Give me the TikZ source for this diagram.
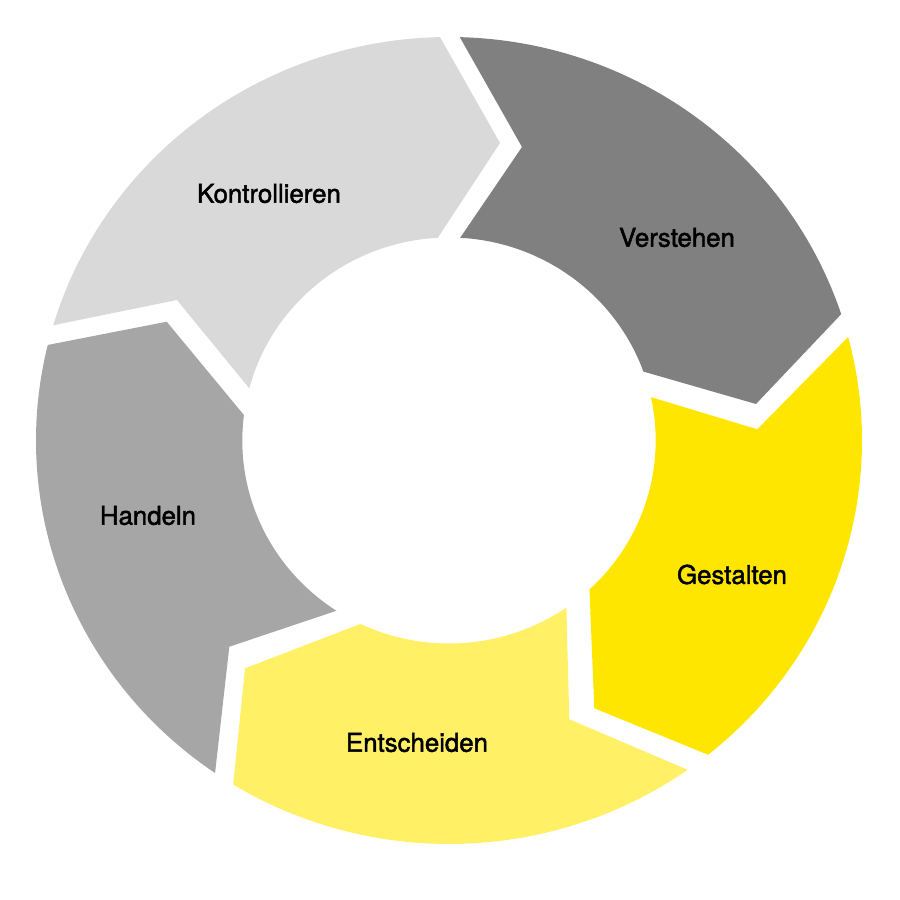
\documentclass[tikz,border=0pt]{standalone}
\usepackage{fontspec}
\setmainfont{TeX Gyre Heros}
\newfontfamily\phasefont{TeX Gyre Heros}[FakeBold=1.8]
\usepackage{xcolor}
\usepackage{tikz}
\definecolor{kontrollgrau}{HTML}{D9D9D9}
\definecolor{verstehgrau}{HTML}{808080}
\definecolor{handelgrau}{HTML}{A6A6A6}
\definecolor{gestaltgelb}{HTML}{FFE600}
\definecolor{entscheidgelb}{HTML}{FFF066}
\tikzset{
  phasetext/.style={font=\phasefont\fontsize{25.8}{30}\selectfont, text=black, inner sep=0pt},
  outerarc/.style={x radius=413, y radius=403.5},
  innerarc/.style={x radius=206.7, y radius=203}
}

\begin{document}
\begin{tikzpicture}[x=1pt, y=1pt]
        \useasboundingbox (-449,-459.5) rectangle (451,440.5);

        % segments, clockwise
        \fill[kontrollgrau] (163.4:413 and 403.5) arc[start angle=163.4, end angle=91.25, outerarc]
            -- (51,297.5) -- (93.1:206.7 and 203) arc[start angle=93.1, end angle=165.1, innerarc]
            -- (-272,140.5) -- cycle;
        \fill[verstehgrau] (88.5:413 and 403.5) arc[start angle=88.5, end angle=18.25, outerarc]
            -- (307,36.5) -- (19.85:206.7 and 203) arc[start angle=19.85, end angle=86.9, innerarc]
            -- (73,293.5) -- cycle;
        \fill[gestaltgelb] (14.87:413 and 403.5) arc[start angle=14.87, end angle=-51.15, outerarc]
            -- (145.3,-267.8) -- (-47.2:206.7 and 203) arc[start angle=-47.2, end angle=12.35, innerarc]
            -- (308.3,11.2) -- cycle;
        \fill[entscheidgelb] (-54.7:413 and 403.5) arc[start angle=-54.7, end angle=-121.5, outerarc]
            -- (-204,-227.8) -- (-115.35:206.7 and 203) arc[start angle=-115.35, end angle=-55.4, innerarc]
            -- (120.3,-278.8) -- cycle;
        \fill[handelgrau] (235.5:413 and 403.5) arc[start angle=235.5, end angle=166.3, outerarc]
            -- (-282.3,118.8) -- (172.8:206.7 and 203) arc[start angle=172.8, end angle=237, innerarc]
            -- (-219.7,-206.2) -- cycle;

        \node[phasetext] (kontrollieren) at (-180,247) {Kontrollieren};
        \node[phasetext] (verstehen)     at (228,203)  {Verstehen};
        \node[phasetext] (gestalten)     at (283,-134) {Gestalten};
        \node[phasetext] (entscheiden)   at (-32,-302) {Entscheiden};
        \node[phasetext] (handeln)       at (-301,-75) {Handeln};
\end{tikzpicture}
\end{document}
